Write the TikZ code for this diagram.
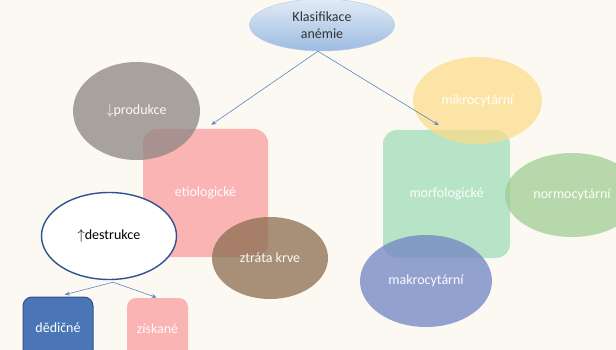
\documentclass[tikz,border=0pt]{standalone}
\usepackage{fontspec}
\setmainfont{Carlito}
\usetikzlibrary{shapes.geometric,arrows.meta,calc}
\definecolor{bgcream}{HTML}{FCF9F3}
\definecolor{titletop}{HTML}{E2EBF6}
\definecolor{titlebot}{HTML}{9DBBE0}
\definecolor{titleline}{HTML}{B8CCE4}
\definecolor{greyc}{HTML}{8D8682}
\definecolor{pinkc}{HTML}{F89E9E}
\definecolor{brownc}{HTML}{8C6C4F}
\definecolor{darkblue}{HTML}{2F528F}
\definecolor{midblue}{HTML}{4A76B8}
\definecolor{greenc}{HTML}{A1DDB7}
\definecolor{yellowc}{HTML}{FBDD8B}
\definecolor{leafc}{HTML}{A0CD92}
\definecolor{lavc}{HTML}{7184C3}
\definecolor{arrowc}{HTML}{5B86C0}
\definecolor{textgrey}{HTML}{333333}
\tikzset{
  lbl/.style={font=\fontsize{14}{17}\selectfont, text=white, align=center},
  blob/.style={ellipse, draw=none, fill opacity=0.75, text opacity=0.95, lbl},
  roundbox/.style={rectangle, rounded corners=14pt, draw=none, fill opacity=0.75, text opacity=0.95, lbl},
  link/.style={draw=arrowc, line width=0.6pt, -{Stealth[length=5pt,width=4pt]}},
}
\begin{document}
\begin{tikzpicture}[x=1pt,y=-1pt]
  \useasboundingbox (0,0) rectangle (616,350);
  \fill[bgcream] (0,0) rectangle (616,350);
  \clip (0,0) rectangle (616,350);

  % main category boxes
  \node[roundbox, fill=pinkc, minimum width=125pt, minimum height=128pt] (etio) at (205.5,193) {etiologické};
  \node[roundbox, fill=greenc, minimum width=127pt, minimum height=128pt] (morf) at (446.5,194) {morfologické};

  % etiological subgroups
  \node[blob, fill=greyc, minimum width=127pt, minimum height=98pt] (prod) at (136.5,111) {$\downarrow$produkce};
  \node[blob, fill=brownc, minimum width=116pt, minimum height=82pt] (ztrata) at (270,258) {ztráta krve};
  \node[ellipse, draw=darkblue, line width=1.4pt, fill=white, minimum width=135pt, minimum height=87pt,
        font=\fontsize{14}{17}\selectfont, text=black] (destr) at (109,236) {$\uparrow$destrukce};

  % morphological subgroups
  \node[blob, fill=yellowc, minimum width=129pt, minimum height=87pt] (mikro) at (477.5,100.5) {mikrocytární};
  \node[blob, fill=leafc, minimum width=134pt, minimum height=84pt] (normo) at (572,195) {normocytární};
  \node[blob, fill=lavc, minimum width=132pt, minimum height=92pt] (makro) at (426,281) {makrocytární};

  % destruction subtypes
  \node[rectangle, rounded corners=9pt, draw=darkblue, line width=1pt, fill=midblue,
        minimum width=70pt, minimum height=62pt, lbl] (dedic) at (58,328) {dědičné};
  \node[rectangle, rounded corners=9pt, draw=none, fill=pinkc, fill opacity=0.75, text opacity=0.95,
        minimum width=61pt, minimum height=62pt, lbl] (ziskane) at (157.5,329) {získané};

  % title
  \node[ellipse, draw=titleline, line width=0.5pt, top color=titletop, bottom color=titlebot,
        minimum width=145pt, minimum height=52pt, inner sep=0pt,
        font=\fontsize{14}{17}\selectfont, text=textgrey, align=center] (title) at (322,25) {Klasifikace\\anémie};

  % connectors
  \draw[link, shorten >=7pt] ($(title.south)+(-4,0)$) -- (etio.north);
  \draw[link, shorten >=9pt] ($(title.south)+(-4,0)$) -- (morf.north);
  \draw[link, shorten >=7pt] ($(destr.south)+(4,2)$) -- (dedic.north);
  \draw[link, shorten >=1pt] ($(destr.south)+(4,2)$) -- (ziskane.north);
\end{tikzpicture}
\end{document}
